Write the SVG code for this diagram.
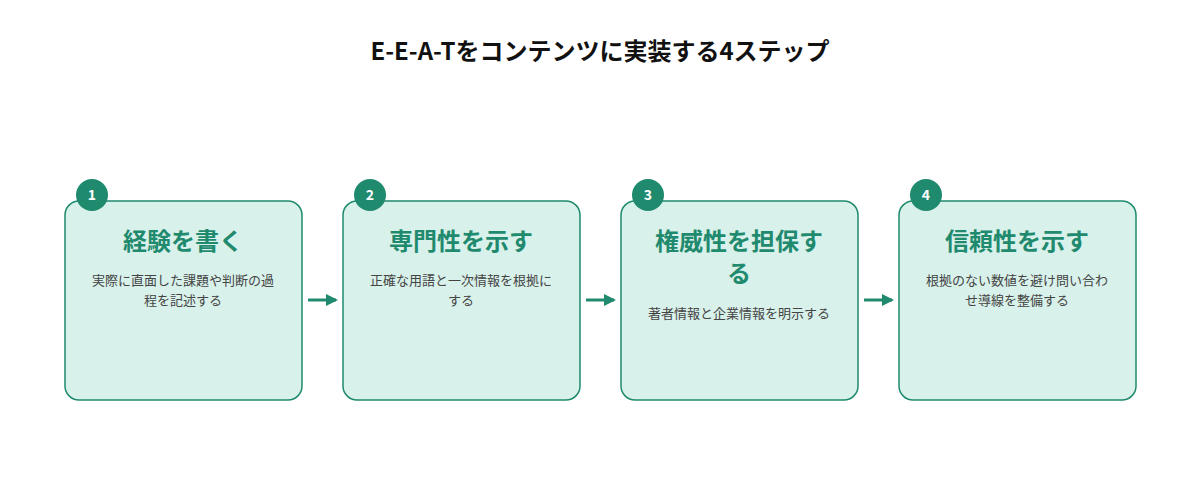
<svg xmlns="http://www.w3.org/2000/svg" width="1200" height="500" viewBox="0 0 1200 500">
<style>
.box{fill:#d8f1ea;stroke:#1f8a6e;stroke-width:1.5}
.badge{fill:#1f8a6e}
.num{font:bold 14px "Noto Sans CJK JP","Noto Sans",sans-serif;fill:#fff;text-anchor:middle}
.ttl{font:bold 24px "Noto Sans CJK JP",sans-serif;fill:#1f8a6e;text-anchor:middle}
.dsc{font:13px "Noto Sans CJK JP",sans-serif;fill:#444;text-anchor:middle}
.conn{stroke:#1f8a6e;stroke-width:3}
</style>
<defs><marker id="ah" markerWidth="12" markerHeight="12" refX="10" refY="6" orient="auto" markerUnits="userSpaceOnUse"><path d="M0,0L12,6L0,12Z" fill="#1f8a6e"/></marker></defs>
<rect width="1200" height="500" fill="#fff"/>
<text x="600" y="60" style="font:bold 24px 'Noto Sans CJK JP',sans-serif;fill:#111" text-anchor="middle">E-E-A-Tをコンテンツに実装する4ステップ</text>
<g id="n1"><rect class="box" x="65" y="201" width="237" height="199" rx="14"/><circle class="badge" cx="92" cy="195" r="16"/><text class="num" x="92" y="200">1</text><text class="ttl" x="183" y="250">経験を書く</text><text class="dsc" x="183" y="285">実際に直面した課題や判断の過</text><text class="dsc" x="183" y="305">程を記述する</text></g>
<g id="n2"><rect class="box" x="343" y="201" width="237" height="199" rx="14"/><circle class="badge" cx="370" cy="195" r="16"/><text class="num" x="370" y="200">2</text><text class="ttl" x="461" y="250">専門性を示す</text><text class="dsc" x="461" y="285">正確な用語と一次情報を根拠に</text><text class="dsc" x="461" y="305">する</text></g>
<g id="n3"><rect class="box" x="621" y="201" width="237" height="199" rx="14"/><circle class="badge" cx="648" cy="195" r="16"/><text class="num" x="648" y="200">3</text><text class="ttl" x="739" y="250">権威性を担保す</text><text class="ttl" x="739" y="282">る</text><text class="dsc" x="739" y="318">著者情報と企業情報を明示する</text></g>
<g id="n4"><rect class="box" x="899" y="201" width="237" height="199" rx="14"/><circle class="badge" cx="926" cy="195" r="16"/><text class="num" x="926" y="200">4</text><text class="ttl" x="1017" y="250">信頼性を示す</text><text class="dsc" x="1017" y="285">根拠のない数値を避け問い合わ</text><text class="dsc" x="1017" y="305">せ導線を整備する</text></g>
<g id="connectors">
<line class="conn" x1="308" y1="300" x2="336" y2="300" marker-end="url(#ah)"/>
<line class="conn" x1="586" y1="300" x2="614" y2="300" marker-end="url(#ah)"/>
<line class="conn" x1="864" y1="300" x2="892" y2="300" marker-end="url(#ah)"/>
</g>
</svg>
